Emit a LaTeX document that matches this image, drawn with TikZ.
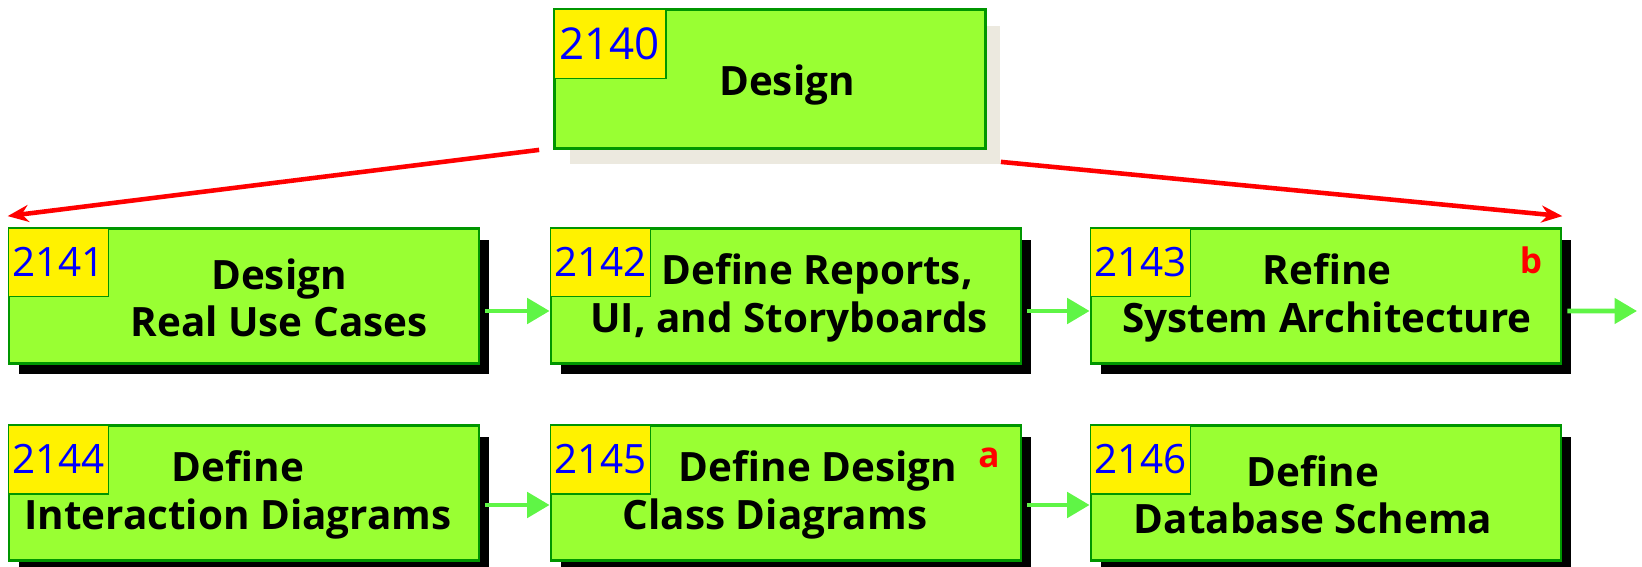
\documentclass[tikz,border=0pt]{standalone}
\usepackage{fontspec}
\setmainfont{Open Sans}
\usetikzlibrary{arrows.meta,shadows}
\definecolor{boxgreen}{RGB}{153,255,51}
\definecolor{edgegreen}{RGB}{0,150,0}
\definecolor{flowgreen}{RGB}{95,245,70}
\definecolor{shadegrey}{RGB}{236,233,223}
\tikzset{
  card/.style={draw=edgegreen,line width=1.6pt,fill=boxgreen,inner sep=0pt},
  task/.style={card,minimum width=9.4cm,minimum height=2.7cm,
    drop shadow={shadow xshift=0.2cm,shadow yshift=-0.22cm,fill=black,opacity=1}},
  phase/.style={card,minimum width=8.62cm,minimum height=2.78cm,
    drop shadow={shadow xshift=0.3cm,shadow yshift=-0.32cm,fill=shadegrey,opacity=1}},
  tag/.style={draw=edgegreen,line width=0.8pt,fill=yellow,text=blue,anchor=north west,
    inner sep=0pt,minimum width=2cm,minimum height=1.38cm,font=\fontsize{23}{25}\selectfont},
  title/.style={align=center,font=\bfseries\fontsize{23}{27}\selectfont},
  note/.style={text=red,font=\bfseries\fontsize{20}{24}\selectfont},
  flow/.style={flowgreen,line width=2.8pt,-{Triangle[length=0.45cm,width=0.5cm]}},
  split/.style={red,line width=2.6pt,-{Stealth[length=0.42cm,width=0.34cm]}}
}
\begin{document}
\begin{tikzpicture}[x=0.02cm,y=-0.02cm]
\useasboundingbox (0,0) rectangle (1642,567);

% top box
\node [phase] (b2140) at (770,79) {};
\node [tag,minimum width=2.24cm,minimum height=1.4cm,font=\fontsize{25}{27}\selectfont] (n2140) at (b2140.north west) {2140};
\node [title] (t2140) at (787,85) {Design};

% first row
\node [task] (b2141) at (244,296) {};
\node [task] (b2142) at (786,296) {};
\node [task] (b2143) at (1326,296) {};
\node [tag] (n2141) at (b2141.north west) {2141};
\node [tag] (n2142) at (b2142.north west) {2142};
\node [tag] (n2143) at (b2143.north west) {2143};
\node [title] (t2141) at (279,298) {Design\\Real Use Cases};
\node [title] (t2142) at (789,298) {\hspace*{1.12cm}Define Reports,\\UI, and Storyboards};
\node [title] (t2143) at (1327,298) {Refine\\System Architecture};
\node [note] (lb) at (1531,260) {b};

% second row
\node [task] (b2144) at (244,493) {};
\node [task] (b2145) at (786,493) {};
\node [task] (b2146) at (1326,493) {};
\node [tag] (n2144) at (b2144.north west) {2144};
\node [tag] (n2145) at (b2145.north west) {2145};
\node [tag] (n2146) at (b2146.north west) {2146};
\node [title] (t2144) at (238,495) {Define\\Interaction Diagrams};
\node [title] (t2145) at (775,495) {\hspace*{1.72cm}Define Design\\Class Diagrams};
\node [title] (t2146) at (1313,495) {Define\\Database Schema};
\node [note] (la) at (989,458) {a};

% arrows
\coordinate (out) at (1637,311);
\draw [split] ([xshift=-0.28cm]b2140.south west) -- ([yshift=0.22cm]b2141.north west);
\draw [split] ([xshift=0.28cm,yshift=-0.24cm]b2140.south east) -- ([yshift=0.22cm]b2143.north east);
\draw [flow] ([xshift=0.1cm,yshift=-0.3cm]b2141.east) -- ([yshift=-0.3cm]b2142.west);
\draw [flow] ([xshift=0.1cm,yshift=-0.3cm]b2142.east) -- ([yshift=-0.3cm]b2143.west);
\draw [flow] ([xshift=0.1cm,yshift=-0.3cm]b2143.east) -- (out);
\draw [flow] ([xshift=0.1cm,yshift=-0.24cm]b2144.east) -- ([yshift=-0.24cm]b2145.west);
\draw [flow] ([xshift=0.1cm,yshift=-0.24cm]b2145.east) -- ([yshift=-0.24cm]b2146.west);
\end{tikzpicture}
\end{document}
